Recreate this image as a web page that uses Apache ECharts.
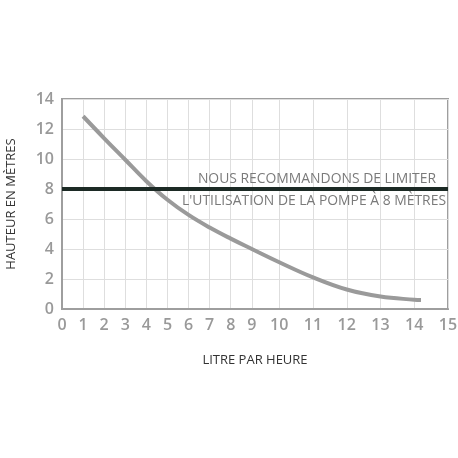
<!DOCTYPE html>
<html>
<head>
<meta charset="utf-8">
<script src="https://cdn.jsdelivr.net/npm/echarts@6/dist/echarts.min.js"></script>
<style>
  html, body { margin: 0; padding: 0; background: #fff; }
  #chart { width: 458px; height: 458px; }
</style>
</head>
<body>
<div id="chart"></div>
<script>
// valeurs
const xTickLabels = ['0', '1', '2', '3', '4', '5', '6', '7', '8', '9', '10', '11', '12', '13', '14', '15'];
const debit = [1, 2, 3, 4, 5, 6, 7, 8, 9, 10, 11, 12, 13, 14, 14.2];
const hauteur = [12.85, 11.38, 9.95, 8.52, 7.28, 6.27, 5.43, 4.69, 4.0, 3.12, 2.11, 1.3, 0.83, 0.62, 0.6];
const limite = 8;
const texteLimite = ['NOUS RECOMMANDONS DE LIMITER', "L'UTILISATION DE LA POMPE À 8 MÈTRES"];

// l'axe des x n'est pas régulier : l'écart entre deux graduations suit la largeur des libellés
const gaps = [];
for (let i = 0; i < xTickLabels.length - 1; i++) {
  gaps.push(4 + 3 * (xTickLabels[i].length + xTickLabels[i + 1].length));
}
const tickPos = [0];
gaps.forEach(g => tickPos.push(tickPos[tickPos.length - 1] + g));
const totalUnits = tickPos[tickPos.length - 1];

function warp(x) {
  const k = Math.min(Math.floor(x), gaps.length - 1);
  return tickPos[k] + (x - k) * gaps[k];
}

const units = [];
for (let u = 0; u <= totalUnits; u++) {
  const idx = tickPos.indexOf(u);
  units.push(idx >= 0 ? xTickLabels[idx] : '');
}

const courbe = debit.map((x, i) => [warp(x), hauteur[i]]);

const grey = '#9e9e9e';
const font = 'Open Sans';

const chart = echarts.init(document.getElementById('chart'));
chart.setOption({
  animation: false,
  grid: {
    left: 62, right: 10, top: 99, bottom: 149,
    containLabel: false,
    outerBoundsMode: 'none',
    show: true, borderColor: grey, borderWidth: 2
  },
  xAxis: [{
    type: 'category',
    data: units,
    boundaryGap: false,
    name: 'LITRE PAR HEURE',
    nameLocation: 'middle',
    nameGap: 45,
    nameTextStyle: { color: '#333', fontFamily: font, fontSize: 13 },
    axisLine: { lineStyle: { color: grey, width: 2 } },
    axisTick: { show: false },
    axisLabel: {
      interval: (index, value) => value !== '',
      color: '#999', fontFamily: font, fontSize: 16, fontWeight: 600, margin: 8
    },
    splitLine: {
      show: true,
      interval: (index, value) => value !== '',
      lineStyle: { color: '#dedede', width: 1 }
    }
  }, {
    type: 'value',
    min: 0,
    max: totalUnits,
    show: false
  }],
  yAxis: {
    type: 'value',
    min: 0,
    max: 14,
    interval: 2,
    name: 'HAUTEUR EN MÈTRES',
    nameLocation: 'middle',
    nameGap: 44,
    nameTextStyle: { color: '#333', fontFamily: font, fontSize: 13 },
    axisLine: { show: true, lineStyle: { color: grey, width: 2 } },
    axisTick: { show: false },
    axisLabel: { color: '#999', fontFamily: font, fontSize: 16, fontWeight: 600, margin: 8 },
    splitLine: { lineStyle: { color: '#dedede', width: 1 } }
  },
  series: [{
    type: 'line',
    xAxisIndex: 1,
    data: courbe,
    smooth: 0.4,
    symbol: 'none',
    lineStyle: { color: '#9a9a9a', width: 4 },
    z: 3,
    markLine: {
      silent: true,
      symbol: 'none',
      lineStyle: { color: '#1c2a25', width: 4, type: 'solid' },
      data: [{
        yAxis: limite,
        label: {
          position: 'insideEndTop',
          formatter: texteLimite[0],
          color: '#7a7a7a', fontFamily: font, fontSize: 13.9,
          distance: [12, 3]
        }
      }, {
        yAxis: limite,
        label: {
          position: 'insideEndBottom',
          formatter: texteLimite[1],
          color: '#7a7a7a', fontFamily: font, fontSize: 13.9,
          distance: [2, 5]
        }
      }]
    }
  }]
});
</script>
</body>
</html>
